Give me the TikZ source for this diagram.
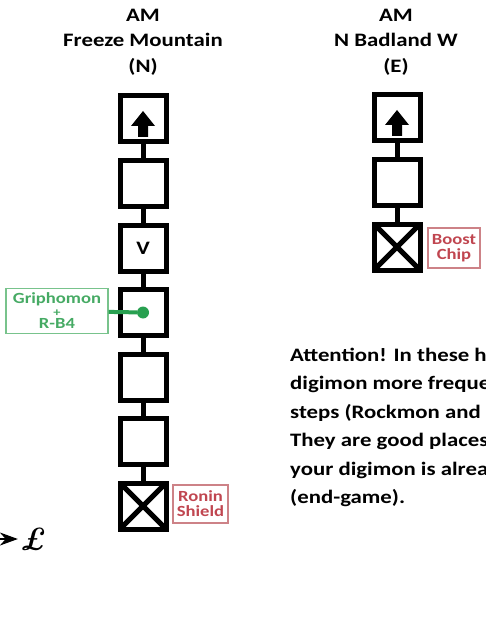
\documentclass[tikz,border=0pt]{standalone}
\usepackage{fontspec}
\newfontfamily\carlito{Carlito}[FakeStretch=1.2]
\usetikzlibrary{arrows.meta}
\usetikzlibrary{positioning}
\definecolor{tagred}{RGB}{192,70,80}
\definecolor{tagredline}{RGB}{205,130,135}
\definecolor{taggreen}{RGB}{70,170,100}
\definecolor{taggreenline}{RGB}{120,195,140}
\definecolor{dotgreen}{RGB}{40,160,80}

\begin{document}
\begin{tikzpicture}[x=1pt,y=-1pt,
    room/.style={draw,line width=5pt,minimum size=46pt,inner sep=0pt,outer sep=0pt,font=\carlito\fontsize{19}{19}\selectfont\bfseries},
    link/.style={line width=5pt},
    heading/.style={align=center,font=\carlito\fontsize{19}{25.5}\selectfont\bfseries},
    tag/.style={draw=tagredline,line width=1.2pt,text=tagred,align=center,inner sep=1pt,font=\carlito\fontsize{15.5}{15}\selectfont\bfseries}]
    \useasboundingbox (0,0) rectangle (485,636);

    \node[heading](tfm) at (143,42) {AM\\Freeze Mountain\\(N)};
    \node[heading](tbw) at (396,42) {AM\\N Badland W\\(E)};

    \node[room](f1) at (143,119) {};
    \node[room](f2) at (143,183.5) {};
    \node[room](f3) at (143,248) {V};
    \node[room](f4) at (143,312.5) {};
    \node[room](f5) at (143,377) {};
    \node[room](f6) at (143,441.5) {};
    \node[room](f7) at (143,506) {};
    \node[room](b1) at (397,118) {};
    \node[room](b2) at (397,182.5) {};
    \node[room](b3) at (397,247) {};

    \draw[link] (f1) -- (f2);
    \draw[link] (f2) -- (f3);
    \draw[link] (f3) -- (f4);
    \draw[link] (f4) -- (f5);
    \draw[link] (f5) -- (f6);
    \draw[link] (f6) -- (f7);
    \draw[link] (b1) -- (b2);
    \draw[link] (b2) -- (b3);

    \fill[shift={(f1)}] (0,-8) -- (12,7) -- (5,7) -- (5,18) -- (-5,18) -- (-5,7) -- (-12,7) -- cycle;
    \fill[shift={(b1)}] (0,-8) -- (12,7) -- (5,7) -- (5,18) -- (-5,18) -- (-5,7) -- (-12,7) -- cycle;
    \draw[link] (f7.north west) -- (f7.south east) (f7.north east) -- (f7.south west);
    \draw[link] (b3.north west) -- (b3.south east) (b3.north east) -- (b3.south west);

    \node[tag,minimum width=55pt,minimum height=38pt](ronin) at (200.5,504) {Ronin\\Shield};
    \node[tag,minimum width=52pt,minimum height=40pt](boost) at (454,248) {Boost\\Chip};
    \node[tag,draw=taggreenline,text=taggreen,minimum width=102pt,minimum height=45pt,font=\carlito\fontsize{15.5}{12.5}\selectfont\bfseries](grip) at (57,311) {Griphomon\\{\fontsize{12}{12.5}\selectfont+}\\R-B4};
    \node[circle,fill=dotgreen,minimum size=12pt,inner sep=0pt](dot) at (f4) {};
    \draw[dotgreen,line width=4pt] (grip) -- (dot);

    \node[anchor=north west,align=left,inner sep=0pt,font=\carlito\fontsize{19}{28.4}\selectfont\bfseries](note) at (290,348) {Attention! In these h\\digimon more freque\\steps (Rockmon and\\They are good places\\your digimon is alrea\\(end-game).};

    \node[inner sep=1pt,font=\fontsize{32}{32}\selectfont\bfseries\itshape](pound) at (33,539) {\pounds};
    \coordinate (from) at (-20,539);
    \draw[-{Stealth[length=18pt,width=13pt]},line width=2pt] (from) -- (pound);
  \end{tikzpicture}
\end{document}
